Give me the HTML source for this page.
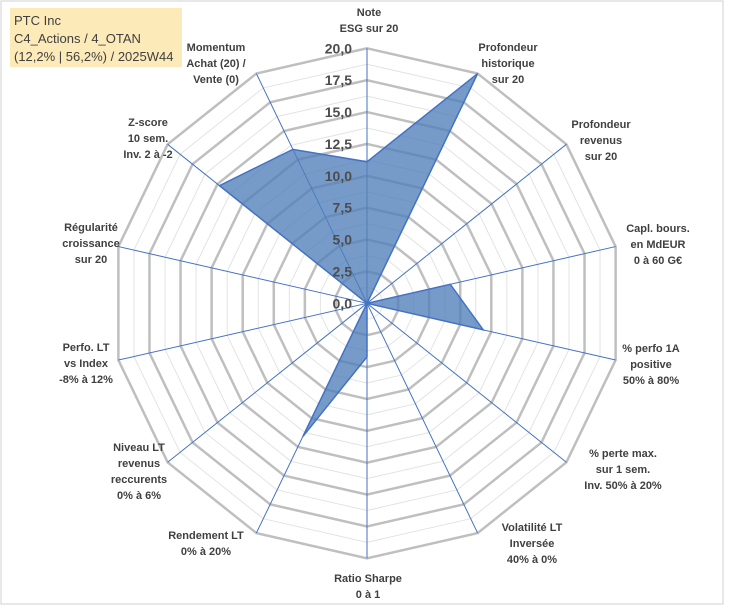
<!DOCTYPE html>
<html><head><meta charset="utf-8"><style>
body{margin:0;background:#fff;}
svg{display:block;font-family:"Liberation Sans",sans-serif;}
</style></head><body>
<svg id="chart" width="729" height="610">
<rect x="1" y="1" width="722" height="603" fill="#fff" stroke="#d0d0d0"/>
<rect x="10" y="8" width="172" height="59" fill="#fdeab9"/>
<text x="14" y="25" font-size="13" fill="#404040">PTC Inc</text>
<text x="14" y="43" font-size="13" fill="#404040">C4_Actions / 4_OTAN</text>
<text x="14" y="61" font-size="13" fill="#404040">(12,2% | 56,2%) / 2025W44</text>
<g id="grid"></g><g id="series"></g><g id="ticks"></g><g id="labels"></g>
</svg>
<script>
const categories=[["Note","ESG sur 20"],["Profondeur","historique","sur 20"],["Profondeur","revenus","sur 20"],["Capl. bours.","en MdEUR","0 à 60 G€"],["% perfo 1A","positive","50% à 80%"],["% perte max.","sur 1 sem.","Inv. 50% à 20%"],["Volatilité LT","Inversée","40% à 0%"],["Ratio Sharpe","0 à 1"],["Rendement LT","0% à 20%"],["Niveau LT","revenus","reccurents","0% à 6%"],["Perfo. LT","vs Index","-8% à 12%"],["Régularité","croissance","sur 20"],["Z-score","10 sem.","Inv. 2 à -2"],["Momentum","Achat (20) /","Vente (0)"]];
const values=[11.1,20,0,6.7,9.35,0,0,4.2,11.6,0,0,0,14.8,13.4];
const tickLabels=["0,0","2,5","5,0","7,5","10,0","12,5","15,0","17,5","20,0"];
const labelCenters=[[369,12],[508,47],[601,124],[658,228],[651,348],[623,453],[532,527],[368,578],[206,535],[139,447],[86,347],[91,227],[148,122],[216,47]];
const NS="http://www.w3.org/2000/svg";
const cx=367,cy=303.3,R=255,maxV=20,N=categories.length;
function pt(i,v){const a=i*2*Math.PI/N;const r=v/maxV*R;return [cx+r*Math.sin(a),cy-r*Math.cos(a)];}
function mk(tag,attrs,parent){const e=document.createElementNS(NS,tag);for(const k in attrs)e.setAttribute(k,attrs[k]);document.getElementById(parent).appendChild(e);return e;}
for(let k=1;k<=16;k++){const v=k*1.25;const pts=[];for(let i=0;i<N;i++)pts.push(pt(i,v).join(','));
 const major=k%2===0;
 const p=mk('polygon',{points:pts.join(' '),fill:'none',stroke:major?'#bfbfbf':'#e3e3e3','stroke-width':major?2.5:1},'grid');
 
 }
for(let i=0;i<N;i++){const e=pt(i,maxV);const l=mk('line',{x1:cx,y1:cy,x2:e[0],y2:e[1],stroke:'#4472c4','stroke-width':1},'grid');
 
 }
const sp=values.map((v,i)=>pt(i,v).join(',')).join(' ');
const poly=mk('polygon',{points:sp,fill:'#4f7fba','fill-opacity':0.78,stroke:'#4472c4','stroke-width':1.5},'series');


tickLabels.forEach((t,k)=>{const y=cy-(k*2.5)/maxV*R;const tx=mk('text',{x:352,y:y+5,'text-anchor':'end','font-size':14,'font-weight':'bold',fill:'#4d4d4d'},'ticks');tx.textContent=t;
 
 });
categories.forEach((lines,i)=>{const c=labelCenters[i];const t=mk('text',{'text-anchor':'middle','font-size':11,'font-weight':'bold',fill:'#404040'},'labels');
 
 
 lines.forEach((s,j)=>{const ts=document.createElementNS(NS,'tspan');ts.setAttribute('x',c[0]);ts.setAttribute('y',c[1]+4+j*16);ts.textContent=s;t.appendChild(ts);});});
</script>
</body></html>
